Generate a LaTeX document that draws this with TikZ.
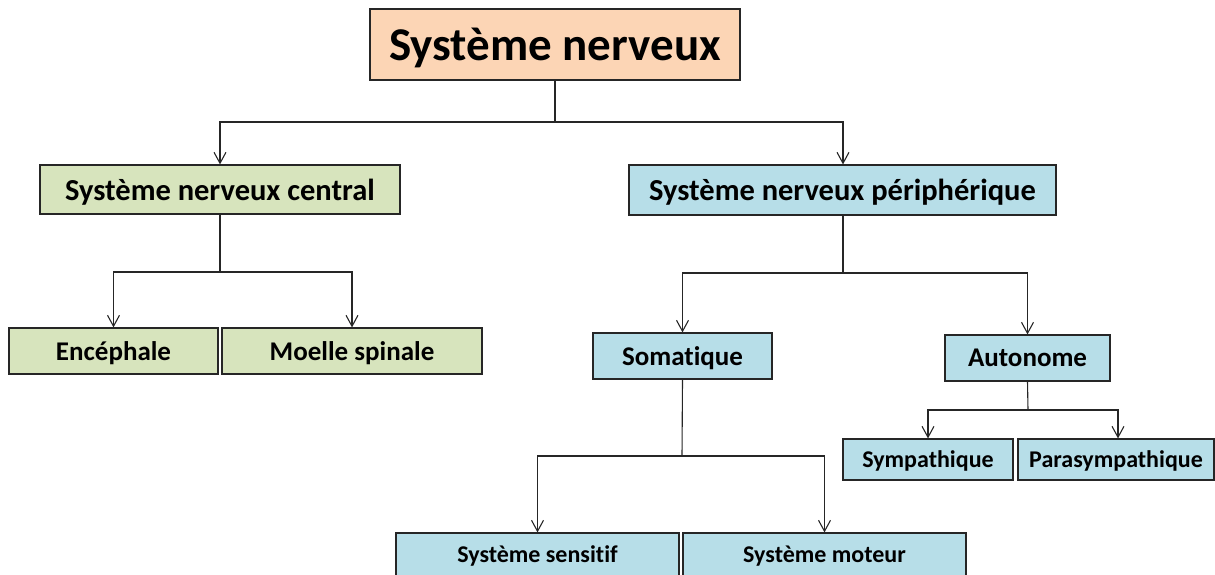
\documentclass[tikz,border=0pt]{standalone}
\usepackage{fontspec}
\setmainfont{Carlito}[Ligatures={NoCommon}]
\usetikzlibrary{arrows.meta}
\definecolor{peach}{HTML}{FCD5B5}
\definecolor{olivel}{HTML}{D7E4BD}
\definecolor{aqual}{HTML}{B7DEE8}
\definecolor{edge}{HTML}{262626}
\begin{document}
\begin{tikzpicture}[x=1pt,y=-1pt,
  box/.style={draw=edge,line width=1.2pt,inner sep=0pt,font=\bfseries,text=black,text depth=0pt},
  arr/.style={draw=edge,line width=1.1pt,-{Straight Barb[length=11pt,width=12pt]}},
  lin/.style={draw=edge,line width=1.1pt}]
\path[use as bounding box] (0,0) rectangle (1215,574);
\clip (0,0) rectangle (1215,574);
\node[box,fill=peach,minimum width=370pt,minimum height=71pt,font=\bfseries\fontsize{47}{56}\selectfont] (root) at (555,44.5) {Système nerveux};
\node[box,fill=olivel,minimum width=360pt,minimum height=49pt,font=\bfseries\fontsize{30.5}{36}\selectfont] (snc) at (220,189.5) {Système nerveux central};
\node[box,fill=aqual,minimum width=427pt,minimum height=50pt,font=\bfseries\fontsize{30.5}{36}\selectfont] (snp) at (842.5,190) {Système nerveux périphérique};
\node[box,fill=olivel,minimum width=209pt,minimum height=46pt,font=\bfseries\fontsize{27}{32}\selectfont] (enc) at (113.5,351) {Encéphale};
\node[box,fill=olivel,minimum width=260pt,minimum height=46pt,font=\bfseries\fontsize{27}{32}\selectfont] (moe) at (352,351) {Moelle spinale};
\node[box,fill=aqual,minimum width=179pt,minimum height=46pt,font=\bfseries\fontsize{27}{32}\selectfont] (som) at (682.5,356) {Somatique};
\node[box,fill=aqual,minimum width=165pt,minimum height=46pt,font=\bfseries\fontsize{27}{32}\selectfont] (aut) at (1027.5,358) {Autonome};
\node[box,fill=aqual,minimum width=170pt,minimum height=41pt,font=\bfseries\fontsize{24}{28}\selectfont] (sym) at (928,459.5) {Sympathique};
\node[box,fill=aqual,minimum width=196pt,minimum height=41pt,font=\bfseries\fontsize{24}{28}\selectfont] (par) at (1116,459.5) {Parasympathique};
\node[box,fill=aqual,minimum width=283pt,minimum height=43pt,font=\bfseries\fontsize{24}{28}\selectfont] (sen) at (537.5,554.5) {Système sensitif};
\node[box,fill=aqual,minimum width=283pt,minimum height=43pt,font=\bfseries\fontsize{24}{28}\selectfont] (mot) at (824.5,554.5) {Système moteur};
\coordinate (j1) at (555,122);
\coordinate (j2) at (220,272);
\coordinate (j3) at (843,273);
\coordinate (j4) at (682,456);
\coordinate (j5) at (1028,410);
\draw[lin] (root.south) -- (j1);
\draw[arr] (j1) -| (snc.north);
\draw[arr] (j1) -| ([xshift=0.5pt]snp.north);
\draw[lin] (snc.south) -- (j2);
\draw[arr] (j2) -| (enc.north);
\draw[arr] (j2) -| (moe.north);
\draw[lin] ([xshift=0.5pt]snp.south) -- (j3);
\draw[arr] (j3) -| (som.north);
\draw[arr] (j3) -| (aut.north);
\draw[lin] (som.south) -- (j4);
\draw[arr] (j4) -| (sen.north);
\draw[arr] (j4) -| (mot.north);
\draw[lin] (aut.south) -- (j5);
\draw[arr] (j5) -| (sym.north);
\draw[arr] (j5) -| ([xshift=2pt]par.north);
\end{tikzpicture}
\end{document}
